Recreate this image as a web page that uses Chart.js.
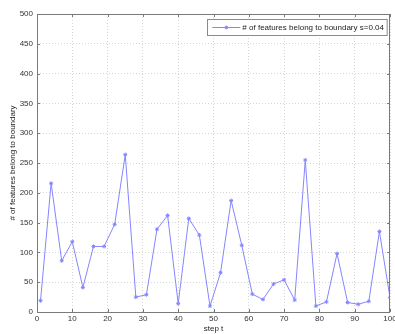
<!DOCTYPE html>
<html>
<head>
<meta charset="utf-8">
<script src="https://cdn.jsdelivr.net/npm/chart.js@4/dist/chart.umd.min.js"></script>
<style>
    html, body { margin: 0; padding: 0; background: #fff; }
    #wrap { width: 395px; height: 334px; }
</style>
</head>
<body>
<div id="wrap"><canvas id="chart" width="395" height="334"></canvas></div>
<script>
// step t (sampled every 3 steps)
const steps = [1, 4, 7, 10, 13, 16, 19, 22, 25, 28, 31, 34, 37, 40, 43, 46, 49,
               52, 55, 58, 61, 64, 67, 70, 73, 76, 79, 82, 85, 88, 91, 94, 97, 100];
// # of features belong to boundary
const boundaryCounts = [19, 216, 86, 118, 41, 110, 110, 147, 264, 25, 29, 139, 162, 14, 157, 129, 10,
                        66, 187, 112, 30, 21, 47, 54, 20, 255, 10, 17, 98, 16, 13, 18, 135, 24];
const seriesLabel = '# of features belong to boundary s=0.04';
const xTitle = 'step t';
const yTitle = '# of features belong to boundary';
const xTicks = [0, 10, 20, 30, 40, 50, 60, 70, 80, 90, 100];
const yTicks = [0, 50, 100, 150, 200, 250, 300, 350, 400, 450, 500];

const lineColor = '#8585ff';
const FONT = { family: 'Liberation Sans, Arial, sans-serif', size: 8 };

// frame around plot + inward tick marks, matlab style
const boxPlugin = {
    id: 'box',
    afterDraw(chart) {
        const { ctx, chartArea: a, scales } = chart;
        ctx.save();
        ctx.strokeStyle = '#7a7a7a';
        ctx.lineWidth = 1;
        ctx.strokeRect(a.left + 0.5, a.top + 0.5, a.right - a.left - 1, a.bottom - a.top);
        ctx.beginPath();
        xTicks.forEach(v => {
            const x = Math.round(scales.x.getPixelForValue(v)) + 0.5;
            ctx.moveTo(x, a.bottom); ctx.lineTo(x, a.bottom - 3);
            ctx.moveTo(x, a.top); ctx.lineTo(x, a.top + 3);
        });
        yTicks.forEach(v => {
            const y = Math.round(scales.y.getPixelForValue(v)) + 0.5;
            ctx.moveTo(a.left, y); ctx.lineTo(a.left + 3, y);
            ctx.moveTo(a.right, y); ctx.lineTo(a.right - 3, y);
        });
        ctx.stroke();
        ctx.restore();
    }
};

// legend box inside the axes, top right
const legendPlugin = {
    id: 'insideLegend',
    afterDraw(chart) {
        const { ctx, chartArea: a } = chart;
        const ds = chart.data.datasets[0];
        ctx.save();
        ctx.font = FONT.size + 'px ' + FONT.family;
        const tw = ctx.measureText(ds.label).width;
        const w = tw + 38, h = 16;
        const x0 = a.right - 3 - w, y0 = a.top + 5;
        ctx.fillStyle = '#fff';
        ctx.fillRect(x0, y0, w, h);
        ctx.strokeStyle = '#8a8a8a';
        ctx.lineWidth = 1;
        ctx.strokeRect(Math.round(x0) + 0.5, y0 + 0.5, w, h);
        const cy = y0 + h / 2 + 0.5;
        ctx.strokeStyle = lineColor;
        ctx.beginPath();
        ctx.moveTo(x0 + 5, cy); ctx.lineTo(x0 + 33, cy);
        ctx.stroke();
        Chart.helpers.drawPoint(ctx, { pointStyle: 'star', radius: 2, borderWidth: 1 }, x0 + 19, cy);
        ctx.fillStyle = '#222';
        ctx.textBaseline = 'middle';
        ctx.fillText(ds.label, x0 + 35, cy);
        ctx.restore();
    }
};

const gridStyle = { color: '#d6d6d6', drawTicks: false, lineWidth: 1 };
const borderStyle = { display: false, dash: [1, 2] };

new Chart(document.getElementById('chart'), {
    type: 'line',
    data: {
        datasets: [{
            label: seriesLabel,
            data: steps.map((t, i) => ({ x: t, y: boundaryCounts[i] })),
            borderColor: lineColor,
            backgroundColor: lineColor,
            borderWidth: 1,
            pointStyle: 'star',
            pointRadius: 2,
            pointBorderWidth: 1,
            pointBorderColor: lineColor,
            tension: 0
        }]
    },
    options: {
        responsive: false,
        animation: false,
        events: [],
        layout: { padding: { top: 14, right: 3, left: 0, bottom: 0 } },
        plugins: {
            legend: { display: false },
            tooltip: { enabled: false }
        },
        scales: {
            x: {
                type: 'linear',
                min: 0, max: 100,
                afterBuildTicks: s => { s.ticks = xTicks.map(v => ({ value: v })); },
                afterFit: s => { s.height = 22; s.paddingLeft = 0; s.paddingRight = 0; },
                grid: gridStyle,
                border: borderStyle,
                ticks: { color: '#333', font: FONT, padding: 2, maxRotation: 0 },
                title: { display: true, text: xTitle, color: '#222', font: FONT, padding: { top: 0, bottom: 0 } }
            },
            y: {
                min: 0, max: 500,
                afterBuildTicks: s => { s.ticks = yTicks.map(v => ({ value: v })); },
                afterFit: s => { s.width = 37; s.paddingTop = 0; s.paddingBottom = 0; },
                grid: gridStyle,
                border: borderStyle,
                ticks: { color: '#333', font: FONT, padding: 4 },
                title: { display: true, text: yTitle, color: '#222', font: FONT, padding: { top: 8, bottom: 0 } }
            }
        }
    },
    plugins: [boxPlugin, legendPlugin]
});
</script>
</body>
</html>
